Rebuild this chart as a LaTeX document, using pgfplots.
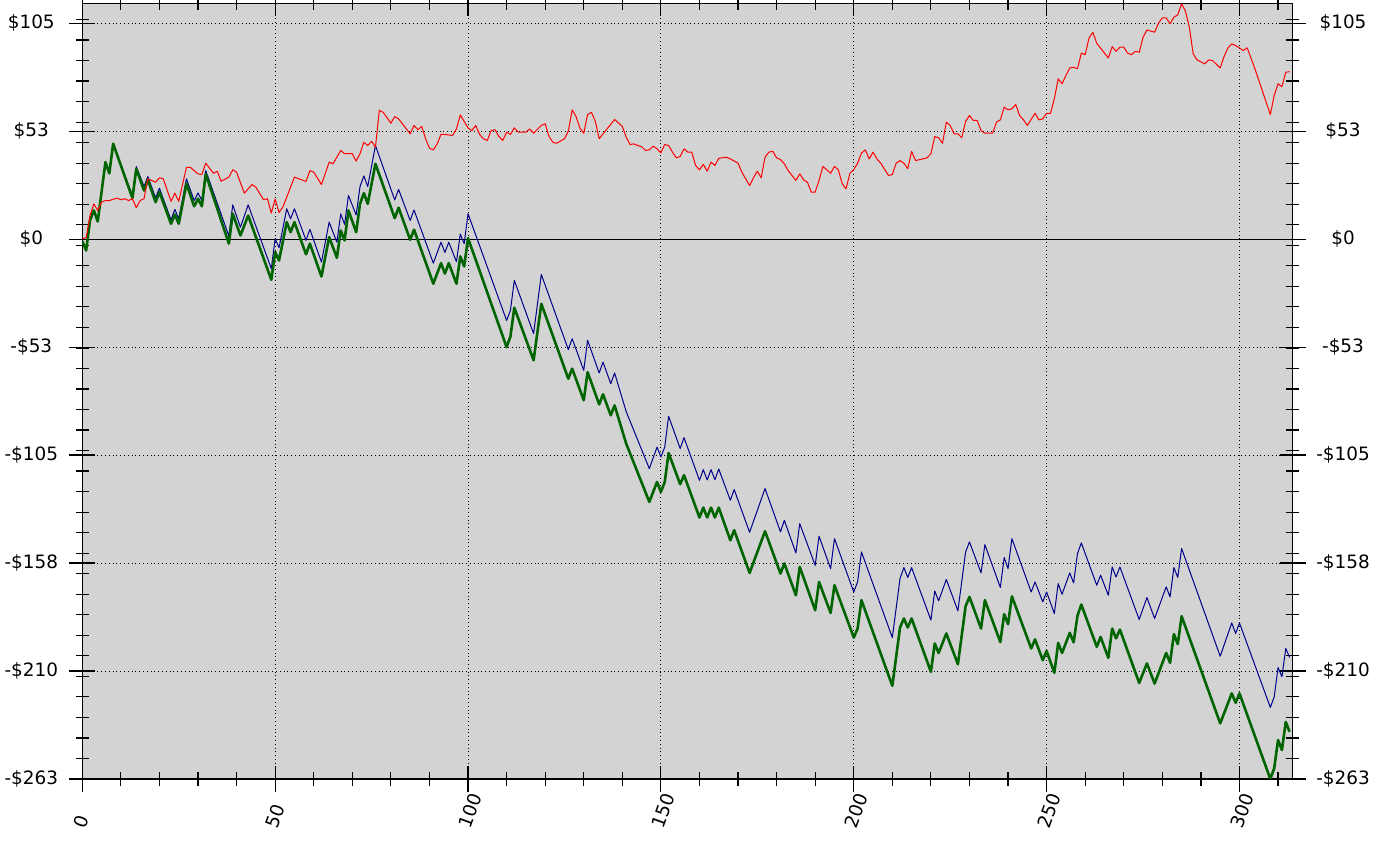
\documentclass[border=0pt]{standalone}
\usepackage{fontspec}
\setmainfont{DejaVu Sans}
\usepackage{pgfplots}
\usepackage{pgfplotstable}
\pgfplotsset{compat=1.18}

\definecolor{bggray}{RGB}{211,211,211}
\definecolor{navyline}{RGB}{0,0,140}
\definecolor{greenline}{RGB}{0,100,0}
\definecolor{redline}{RGB}{255,0,0}

% equity after costs (thick green)
\pgfplotstableread{
x y
0 -1
1 -5.5
2 9.1
3 14
4 8.6
6 37.5
7 32
8 46.5
13 20
14 34.3
16 23.7
17 28.9
19 18
20 22.9
23 7.5
24 12
25 7.5
27 27
29 16
30 19.7
31 16
32 31.8
38 -2.2
39 12.4
41 1.8
43 11.5
49 -19.8
50 -6.3
51 -10.4
53 8.3
54 3.4
55 8.3
58 -7.4
59 -2.2
62 -18.2
64 1
66 -9.1
67 4.2
68 -0.6
69 14
71 3.4
72 17.2
73 22.4
74 17.2
76 36.7
81 10.2
82 15.3
85 -0.3
86 4.6
91 -21.7
93 -11.7
94 -16.8
95 -11.7
97 -21.7
98 -8.4
99 -13.3
100 0.5
110 -52.6
111 -47.4
112 -33.4
117 -59
119 -31.5
126 -68
127 -63.1
130 -78.5
131 -64.8
134 -80.5
135 -75.6
137 -85.8
138 -81
141 -99.6
147 -128
149 -118.3
150 -123.2
151 -118.3
152 -104.2
155 -119.4
156 -115
160 -135.6
161 -130.8
162 -135.6
163 -130.8
164 -135.6
165 -130.8
168 -146.7
169 -141.8
173 -162.6
177 -142.3
181 -162.9
182 -158
185 -173.5
186 -159.7
190 -180.8
191 -167
194 -182.1
195 -168.6
200 -194.1
201 -189.7
202 -175.9
210 -217.6
212 -189.2
213 -184.8
214 -189.2
215 -184.8
220 -210.8
221 -197
222 -201.6
224 -192.1
227 -207.1
229 -178.8
230 -174.3
233 -189.7
234 -175.9
238 -196.3
239 -182.7
240 -187.6
241 -174
246 -199.4
247 -195
249 -205.1
250 -200.6
252 -211.3
253 -196.7
254 -201.6
256 -191.8
257 -196.4
258 -183.5
259 -178
263 -198.6
264 -193.8
266 -204
267 -189.7
268 -194.5
269 -190.2
274 -216.2
276 -206.7
278 -216.5
281 -201.6
282 -206.4
283 -192.4
284 -197.3
285 -183.7
295 -235.9
298 -221.3
299 -225.9
300 -221.3
308 -263
309 -257.8
310 -244
311 -248.9
312 -235.2
313 -240
}\greendata

% equity before costs (thin blue)
\pgfplotstableread{
x y
0 -1
1 -5.5
2 9.1
3 14
4 8.6
6 37.5
7 32
8 46.5
13 21
14 35.3
16 25.7
17 30.5
19 20.1
20 24.8
23 9.4
24 14.5
25 9.9
27 29.4
29 18.8
30 22.5
31 18.8
32 33.4
38 1.5
39 16.7
41 5.8
43 16.7
49 -14.4
50 0.2
51 -4.2
53 14.8
54 9.9
55 14.8
58 -0.6
59 4.8
62 -11.2
64 8.3
66 -1.5
67 12.3
68 7.2
69 21.3
71 11.8
72 25.6
73 30.8
74 25.6
76 45.6
81 19.1
82 24.2
85 9.1
86 14.2
91 -11.7
93 -1.5
94 -6.5
95 -1.5
97 -11
98 2.5
99 -2.2
100 12.4
110 -39.6
111 -34.7
112 -20.1
117 -46
119 -17.2
126 -53.8
127 -48.5
130 -63.9
131 -49.3
134 -65.2
135 -59.9
137 -70.4
138 -65.2
141 -84
147 -111.8
149 -101.3
150 -106.1
151 -101.3
152 -86.3
155 -102
156 -96.7
160 -117.5
161 -112.3
162 -117.3
163 -112.3
164 -117.2
165 -112
168 -127.2
169 -122
173 -142.8
177 -121.5
181 -142.6
182 -137
185 -152.9
186 -138.6
190 -158.9
191 -144.7
194 -160.5
195 -145.9
200 -171.9
201 -167
202 -152.4
210 -194.1
212 -165.3
213 -160
214 -164.8
215 -160
220 -185.6
221 -171.4
222 -176.2
224 -165.8
227 -181.1
229 -152.4
230 -147.5
233 -162.6
234 -148.8
238 -169.7
239 -155.1
240 -160.5
241 -145.9
246 -171.9
247 -167
249 -176.7
250 -171.9
252 -182.4
253 -167.8
254 -173
256 -162.6
257 -167.5
258 -153.2
259 -148
263 -168.6
264 -163.7
266 -173.5
267 -159.7
268 -164.6
269 -159.7
274 -185.3
276 -174.6
278 -184.8
281 -169.4
282 -174.3
283 -160
284 -164.8
285 -150.7
295 -203.2
298 -187
299 -192.1
300 -187
308 -228.1
309 -223
310 -208.7
311 -213.2
312 -199.4
313 -203.8
}\bluedata

% benchmark (thin red)
\pgfplotstableread{
x y
0 0.2
1 0.7
2 11.5
3 17.2
4 14
5 18
6 18.8
7 18.8
9 20
10 19.2
11 19.7
12 18.8
13 19.7
14 15.3
15 18.8
16 19.7
17 29.4
19 27.7
20 29.9
21 29.4
23 18.4
24 22.4
25 18.4
27 35
28 35
29 33.4
30 31.8
31 31.5
32 37
34 32.1
35 33
36 28.2
38 30.2
39 33.8
40 32.6
42 22.4
44 26.6
45 25.3
47 19.2
48 19.7
49 12.7
50 19.5
51 13
52 15.6
55 30.2
58 28.1
59 33.4
60 32.6
62 26.6
64 37.5
65 36.7
67 43.2
68 41.6
70 41.6
71 38
72 41.6
73 47.2
74 45.6
75 47.7
76 44.8
77 62.7
78 61.8
80 56.5
81 59.7
82 58.6
85 51.3
86 55.4
87 53.3
88 54.9
89 48.9
90 44.3
91 43.5
92 46.4
93 51
94 51
96 50.5
97 53.7
98 60.5
100 54.2
101 52.9
102 55.4
103 51
104 48.9
105 48.1
106 52.9
107 53.3
108 50
109 48.1
110 52.1
111 51
112 54.2
113 52.1
115 52.1
116 53.7
117 51.6
119 55.4
120 56.2
121 50
122 47.2
123 46.7
125 48.9
126 52.6
127 63
128 59.7
129 54.2
130 51.6
131 60.7
132 61.8
133 57.4
134 48.9
135 51.3
138 58.3
140 54.9
141 49.7
142 46.1
143 46.4
144 45.6
145 45.1
146 43.2
147 43.5
148 45.3
149 44
150 42.1
151 46.1
152 45.6
153 42.4
154 39.6
155 40.3
156 44
157 42.4
158 42.4
159 35.9
160 33.8
161 36.4
162 33.1
163 37.5
164 35.9
165 39.4
167 39.9
168 39.1
170 37
171 32.6
173 26.1
174 29.9
175 33.1
176 29.9
177 39.9
178 42.4
179 42.8
180 39.6
181 38.8
182 36.7
183 33.4
185 28.6
186 31.8
187 28.9
188 27.7
189 22.9
190 22.9
191 28.6
192 35.4
193 33.8
194 32.1
195 35.4
196 33.8
197 27
198 24.5
199 32.1
200 33.8
201 37
202 41.9
203 43.5
204 39.1
205 42.4
206 39.1
207 37
209 31
210 31.5
211 37
212 38.3
213 37
214 34.3
215 42.8
216 38.3
217 38.7
219 39.6
220 41.6
221 50
222 49.4
223 46.7
224 57
225 55.4
226 51.3
227 51.3
228 49.4
229 57.4
230 60.2
231 57.8
232 57.8
233 52.9
234 51.6
236 51.6
237 57
238 58.1
239 64.3
240 63
241 63.5
242 65.6
243 60.2
244 58.1
245 55.4
247 61.3
248 58.1
249 58.6
250 61.3
251 61.3
252 68.4
253 78.1
254 75.7
255 79.7
256 83.4
257 83.7
258 83
259 90.6
260 89.9
261 98
262 100.8
263 95.4
266 88.3
267 93.8
268 91.5
269 93.5
270 93.5
271 90.6
272 89.9
273 91.5
274 91
275 98.3
276 101.9
278 100.8
279 105.2
280 107.8
281 107.8
282 104.9
283 108.1
284 109.3
285 114.7
286 111
287 103.2
288 90.3
289 87.3
291 85.4
292 87.3
293 87
295 83.4
296 88.9
297 93.2
298 95.1
299 94.3
301 91.9
302 93.2
304 83
308 60.7
309 70
310 75.7
311 74.3
312 81.3
313 81.6
}\reddata

\begin{document}
\begin{tikzpicture}
\useasboundingbox (-41.15pt,-41.5pt) rectangle (652.35pt,389.5pt);
\begin{axis}[
    at={(0pt,0pt)}, anchor=south west,
    scale only axis,
    width=605.2pt, height=387.85pt,
    xmin=0, xmax=313.8,
    ymin=-263, ymax=114.9,
    axis background/.style={fill=bggray},
    axis line style={black, line width=0.6pt},
    xtick={0,50,...,300},
    minor xtick={10,20,...,310},
    ytick={-263,-210.4,-157.8,-105.2,-52.6,0,52.6,105.2},
    yticklabels={-\$263,-\$210,-\$158,-\$105,-\$53,\$0,\$53,\$105},
    minor ytick={-253,-243,...,107},
    tick align=center,
    major tick length=13pt,
    minor tick length=6.5pt,
    every tick/.style={black, line width=0.6pt},
    grid=major,
    major grid style={black, line width=0.5pt, dash pattern=on 0.5pt off 1.4pt},
    tick label style={font=\fontsize{9.2}{11}\selectfont},
    /pgf/number format/assume math mode=true,
    xticklabel style={xshift=-3pt, yshift=-21pt, rotate=70, anchor=west},
    yticklabel style={anchor=center, xshift=-19pt},
    extra y ticks={0},
    extra y tick labels={},
    extra y tick style={major grid style={solid, black, line width=0.6pt}},
]
\addplot[navyline, line width=0.5pt, line join=round] table {\bluedata};
\addplot[greenline, line width=1.3pt, line join=round] table {\greendata};
\addplot[redline, line width=0.5pt, line join=round] table {\reddata};
\end{axis}
% right-hand copy of the value labels
\begin{axis}[
    at={(0pt,0pt)}, anchor=south west,
    scale only axis,
    width=605.2pt, height=387.85pt,
    xmin=0, xmax=313.8,
    ymin=-263, ymax=114.9,
    axis line style={draw=none},
    xtick=\empty,
    ytick={-263,-210.4,-157.8,-105.2,-52.6,0,52.6,105.2},
    yticklabels={-\$263,-\$210,-\$158,-\$105,-\$53,\$0,\$53,\$105},
    yticklabel pos=right,
    major tick length=0pt,
    tick style={draw=none},
    tick label style={font=\fontsize{9.2}{11}\selectfont},
    yticklabel style={anchor=center, xshift=25.15pt},
]
\end{axis}
\end{tikzpicture}
\end{document}
